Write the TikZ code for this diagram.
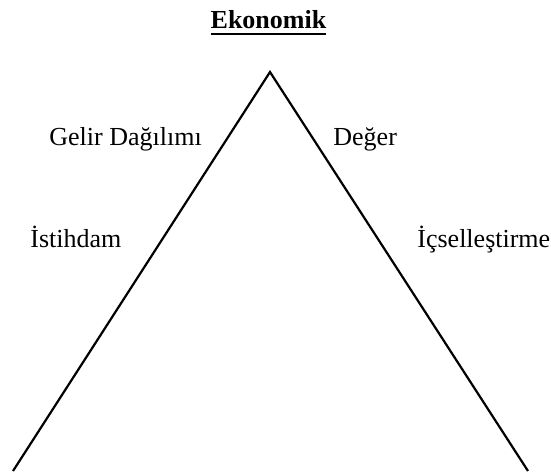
\documentclass[tikz,border=0pt]{standalone}
\usepackage{fontspec}
\setmainfont{Liberation Serif}
\usepackage{tikz}
\usetikzlibrary{positioning}
\newcommand\thickul[1]{\setbox0\hbox{#1}\rlap{\rule[-3.3pt]{\wd0}{1pt}}\box0}

\begin{document}
\begin{tikzpicture}[x=0.5pt, y=-0.5pt,
      lbl/.style={inner sep=0pt, anchor=base west,
                  font=\fontsize{13}{15.6}\selectfont},
      ttl/.style={inner sep=0pt, anchor=base,
                  font=\fontsize{13}{15.6}\selectfont\bfseries},
      side/.style={line width=1.1pt, line join=miter}
  ]
    \useasboundingbox (0,0) rectangle (551,471);
    % triangle
    \coordinate (top)   at (270,72);
    \coordinate (left)  at (13,471);
    \coordinate (right) at (528,471);
    \draw[side] (left) -- (top) -- (right);
    % title and labels
    \node[ttl] (eko) at (268.5,28) {\thickul{Ekonomik}};
    \node[lbl] (gelir) at (49,145)  {Gelir Dağılımı};
    \node[lbl] (deger) at (333,145) {Değer};
    \node[lbl] (istih) at (30,247)  {İstihdam};
    \node[lbl] (icsel) at (417,247) {İçselleştirme};
  \end{tikzpicture}
\end{document}
